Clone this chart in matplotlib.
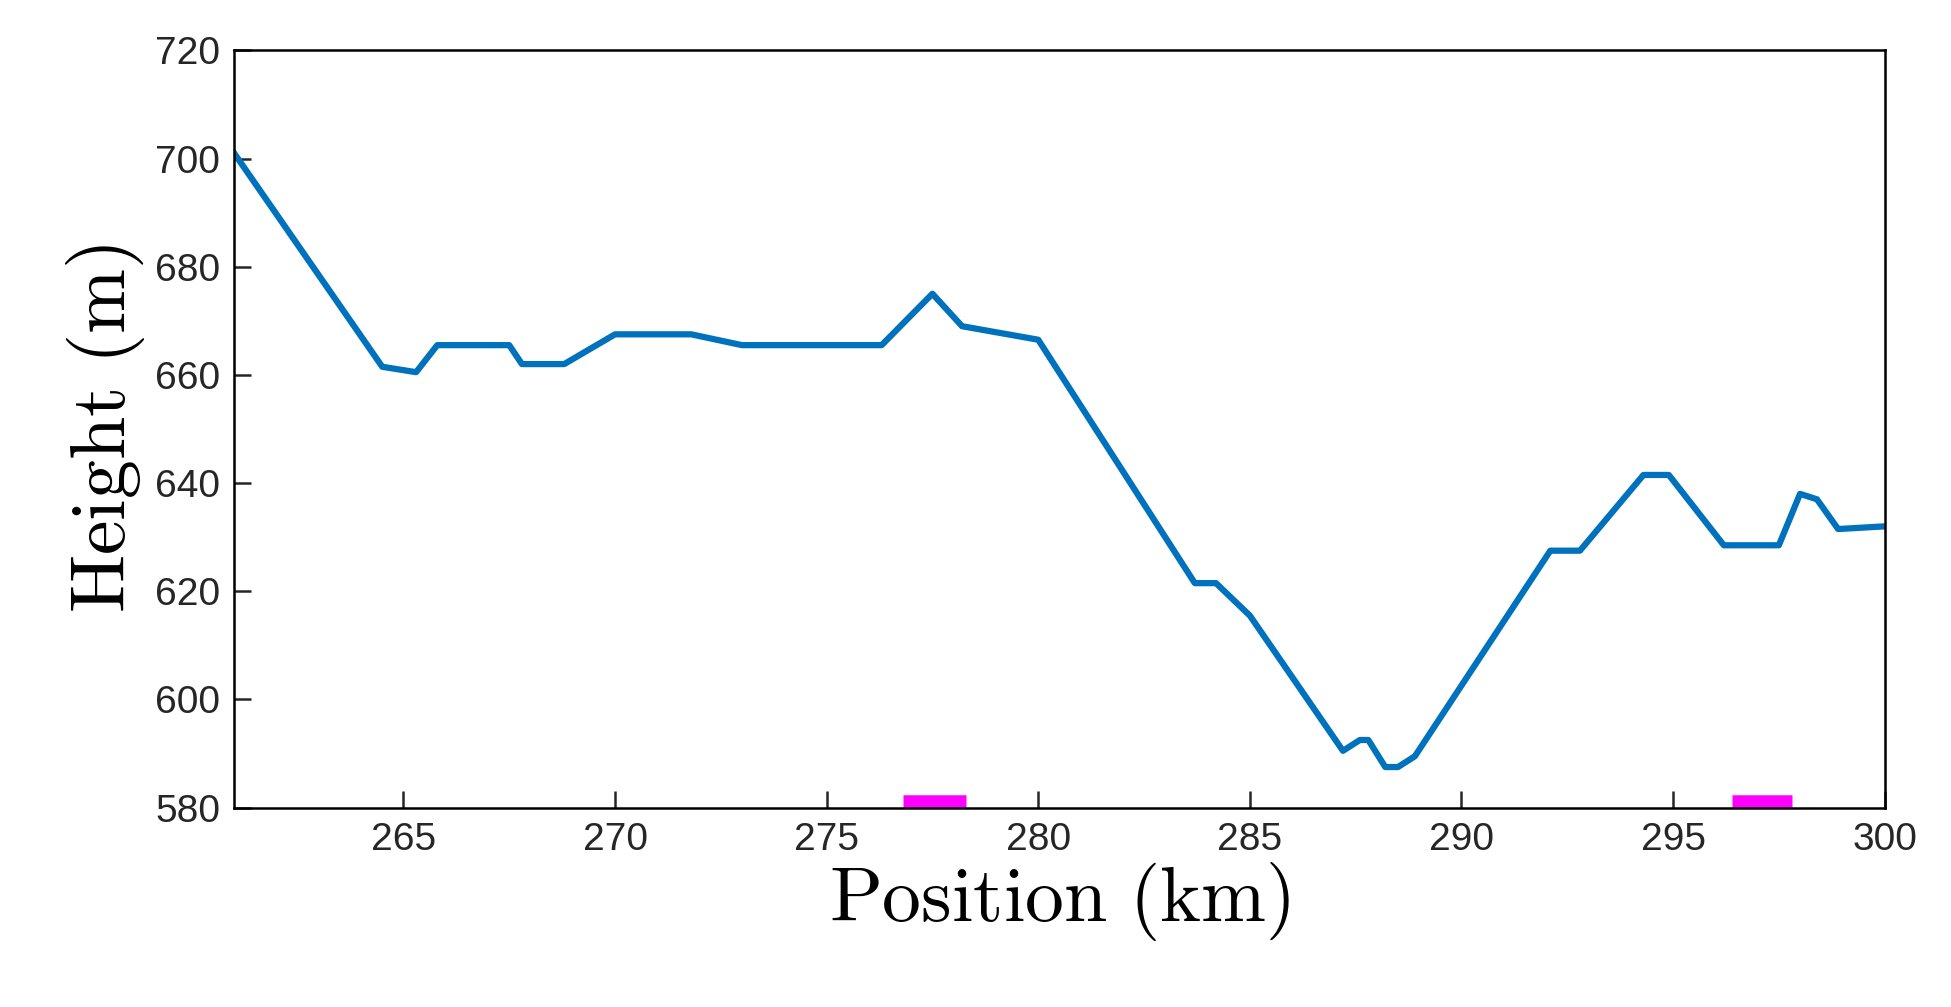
import matplotlib
matplotlib.use("Agg")
import matplotlib.pyplot as plt

pos_km = [261, 264.5, 265.3, 265.8, 267.5, 267.8, 268.8, 270, 271.8, 273, 276.3,
          277.5, 278.2, 280, 283.7, 284.2, 285, 287.2, 287.6, 287.8, 288.2, 288.5,
          288.9, 292.1, 292.8, 294.3, 294.9, 296.2, 297.5, 298, 298.4, 298.9, 300]
height_m = [701, 661.5, 660.5, 665.5, 665.5, 662, 662, 667.5, 667.5, 665.5, 665.5,
            675, 669, 666.5, 621.5, 621.5, 615.5, 590.5, 592.5, 592.5, 587.5, 587.5,
            589.5, 627.5, 627.5, 641.5, 641.5, 628.5, 628.5, 638, 637, 631.5, 632]
# magenta segments along the bottom (start, end) in km
marks = [(276.8, 278.3), (296.4, 297.8)]

plt.rcParams['mathtext.fontset'] = 'cm'
plt.rcParams['font.family'] = 'Liberation Sans'

fig = plt.figure(figsize=(19.51, 10.07), dpi=100)
ax = fig.add_axes([0.12, 0.198, 0.846, 0.752])
ax.plot(pos_km, height_m, color='#0072BD', lw=4.5)
for a, b in marks:
    ax.plot([a, b], [581.3, 581.3], color='#FF00FF', lw=9, solid_capstyle='butt')

ax.set_xlim(261, 300)
ax.set_ylim(580, 720)
ax.set_xticks(range(265, 301, 5))
ax.set_yticks(range(580, 721, 20))
ax.tick_params(labelsize=28, direction='in', length=12, width=1.8, colors='#262626', pad=10)
for s in ax.spines.values():
    s.set_linewidth(1.8)
ax.set_xlabel(r'$\mathrm{Position\ (km)}$', fontsize=56, labelpad=2)
ax.set_ylabel(r'$\mathrm{Height\ (m)}$', fontsize=56, labelpad=6)
fig.savefig('out.png')
